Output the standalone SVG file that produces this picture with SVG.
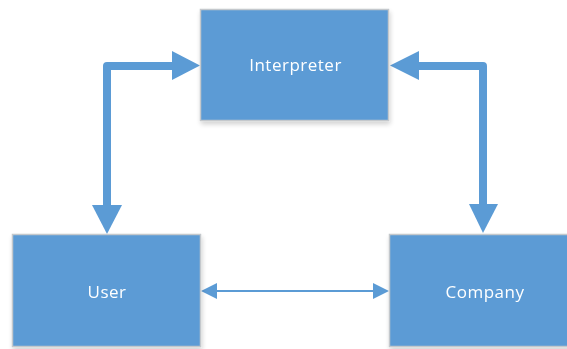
<svg xmlns="http://www.w3.org/2000/svg" width="567" height="349" viewBox="0 0 567 349">
  <style>
    .box { fill: #5B9BD5; stroke: #C4C8CC; stroke-width: 1.5; }
    .label { fill: #FFFFFF; font-family: "Open Sans", "Liberation Sans", sans-serif; font-size: 17px; letter-spacing: 0.5px; text-anchor: middle; }
    .thick { fill: none; stroke: #5B9BD5; stroke-width: 8; stroke-linejoin: round; }
    .thin { fill: none; stroke: #5B9BD5; stroke-width: 2; }
    .head { fill: #5B9BD5; }
  </style>
  <defs>
    <filter id="shadow" x="-10%" y="-10%" width="125%" height="130%">
      <feGaussianBlur in="SourceAlpha" stdDeviation="2.5"/>
      <feOffset dx="1" dy="3" result="b"/>
      <feComponentTransfer><feFuncA type="linear" slope="0.18"/></feComponentTransfer>
      <feMerge><feMergeNode/><feMergeNode in="SourceGraphic"/></feMerge>
    </filter>
  </defs>

  <g id="connectors">
    <!-- User <-> Interpreter -->
    <path class="thick" d="M107 207 V66 H173"/>
    <polygon class="head" points="200,65.5 172,51 172,80"/>
    <polygon class="head" points="107,234 92,205 122,205"/>
    <!-- Interpreter <-> Company -->
    <path class="thick" d="M418 66 H483 V206"/>
    <polygon class="head" points="390,65.5 419,51 419,80"/>
    <polygon class="head" points="483,233 469,204 498,204"/>
    <!-- User <-> Company -->
    <line class="thin" x1="214" y1="291" x2="376" y2="291"/>
    <polygon class="head" points="201,291 217,283 217,299"/>
    <polygon class="head" points="389,291 373,283 373,299"/>
  </g>

  <g id="interpreter" filter="url(#shadow)">
    <rect class="box" x="200.5" y="9.5" width="188" height="111"/>
    <text class="label" x="295.5" y="70.5">Interpreter</text>
  </g>

  <g id="user" filter="url(#shadow)">
    <rect class="box" x="12.5" y="234.5" width="188" height="112"/>
    <text class="label" x="107" y="297.5">User</text>
  </g>

  <g id="company" filter="url(#shadow)">
    <rect class="box" x="389.5" y="234.5" width="188" height="112"/>
    <text class="label" x="485" y="297.5">Company</text>
  </g>
</svg>
